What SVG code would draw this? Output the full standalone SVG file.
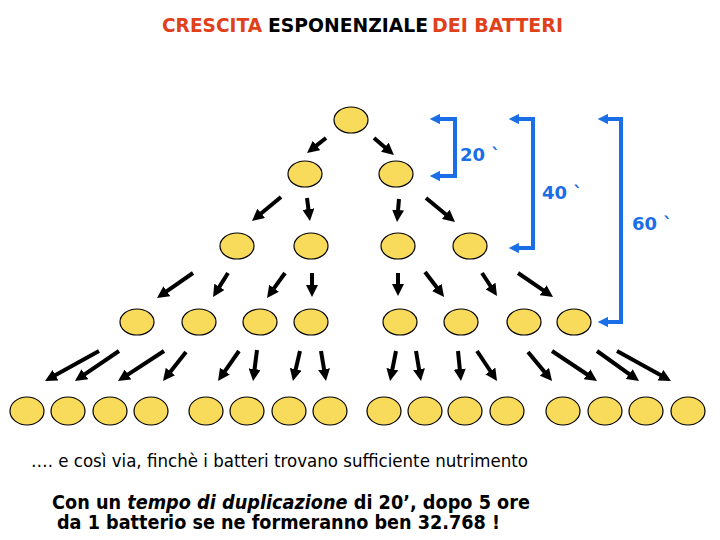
<svg xmlns="http://www.w3.org/2000/svg" width="720" height="540" viewBox="0 0 720 540">
<style>
.cell{fill:#F9DB5B;stroke:#000;stroke-width:1.2}
.ar{stroke:#000;stroke-width:4;fill:none;marker-end:url(#ah)}
.br{stroke:#1A6EE6;stroke-width:4;fill:none;stroke-linejoin:miter;marker-start:url(#bh);marker-end:url(#bh)}
.bl{fill:#1A6EE6;font-family:"DejaVu Sans",Verdana,sans-serif;font-weight:bold;font-size:18px}
.ti{font-family:"DejaVu Sans",Verdana,sans-serif;font-weight:bold;font-size:19px}
.red{fill:#E0401A}
.bt{font-family:"DejaVu Sans",Verdana,sans-serif;font-weight:bold;font-size:19px;fill:#000}
.nt{font-family:"DejaVu Sans",Verdana,sans-serif;font-size:17px;fill:#000}
</style>
<defs>
<marker id="ah" viewBox="0 0 10 10" refX="2.5" refY="5" markerWidth="3" markerHeight="3" markerUnits="strokeWidth" orient="auto">
<path d="M0,0 L10,5 L0,10 z" fill="#000"/>
</marker>
<marker id="bh" viewBox="0 0 10 10" refX="2" refY="5" markerWidth="2.8" markerHeight="2.6" markerUnits="strokeWidth" orient="auto-start-reverse">
<path d="M0,0 L10,5 L0,10 z" fill="#1A6EE6"/>
</marker>
</defs>

<g id="title">
<text class="ti red" x="162" y="32" textLength="100" lengthAdjust="spacingAndGlyphs">CRESCITA</text>
<text class="ti" x="268" y="32" textLength="160" lengthAdjust="spacingAndGlyphs" fill="#000">ESPONENZIALE</text>
<text class="ti red" x="432" y="32" textLength="131" lengthAdjust="spacingAndGlyphs">DEI BATTERI</text>
</g>

<g id="connectors">
<path class="ar" d="M326,138 L314.1,147.4"/>
<path class="ar" d="M374,138 L387.1,149.2"/>
<path class="ar" d="M281,197 L258.9,215.3"/>
<path class="ar" d="M307,198 L308.8,212.1"/>
<path class="ar" d="M399,199 L397.8,213"/>
<path class="ar" d="M426,198 L448.1,216.3"/>
<path class="ar" d="M193,273 L164.4,292.9"/>
<path class="ar" d="M228,273 L217.8,289.4"/>
<path class="ar" d="M285,273 L272.3,290.7"/>
<path class="ar" d="M312,273 L312,288"/>
<path class="ar" d="M398,273 L398,287"/>
<path class="ar" d="M425,272 L438.6,289.8"/>
<path class="ar" d="M482,273 L492.1,288.5"/>
<path class="ar" d="M518,273 L545.6,291.9"/>
<path class="ar" d="M99,351 L52.9,376.6"/>
<path class="ar" d="M119,351 L82.4,375.9"/>
<path class="ar" d="M164,351 L125.5,376.1"/>
<path class="ar" d="M186,352 L168.6,373.9"/>
<path class="ar" d="M239,351 L223.2,373.6"/>
<path class="ar" d="M257,350 L254.2,372.1"/>
<path class="ar" d="M300,351 L295,372.2"/>
<path class="ar" d="M321,351 L324.5,372.1"/>
<path class="ar" d="M396,351 L391.8,372.2"/>
<path class="ar" d="M416,351 L419.5,372.1"/>
<path class="ar" d="M458,351 L460.1,372"/>
<path class="ar" d="M477,351 L492,373.5"/>
<path class="ar" d="M528,352 L546.3,374.1"/>
<path class="ar" d="M552,351 L589.5,376"/>
<path class="ar" d="M597,351 L631.7,375.8"/>
<path class="ar" d="M617,351 L663.1,376.6"/>
</g>

<g id="brackets">
<path class="br" d="M438,119 L455,119 L455,176 L438,176"/>
<path class="br" d="M517,119 L533,119 L533,248 L517,248"/>
<path class="br" d="M606,119 L621,119 L621,322 L606,322"/>
<text class="bl" x="460" y="161">20 `</text>
<text class="bl" x="542" y="199">40 `</text>
<text class="bl" x="632" y="230">60 `</text>
</g>

<g id="gen0"><ellipse class="cell" cx="351" cy="120" rx="17" ry="13"/></g>
<g id="gen1">
<ellipse class="cell" cx="305" cy="174" rx="17" ry="13"/>
<ellipse class="cell" cx="396" cy="174" rx="17" ry="13"/>
</g>
<g id="gen2">
<ellipse class="cell" cx="237" cy="246" rx="17" ry="13"/>
<ellipse class="cell" cx="311" cy="246" rx="17" ry="13"/>
<ellipse class="cell" cx="398" cy="246" rx="17" ry="13"/>
<ellipse class="cell" cx="470" cy="246" rx="17" ry="13"/>
</g>
<g id="gen3">
<ellipse class="cell" cx="137" cy="322" rx="17" ry="13"/>
<ellipse class="cell" cx="199" cy="322" rx="17" ry="13"/>
<ellipse class="cell" cx="260" cy="322" rx="17" ry="13"/>
<ellipse class="cell" cx="311" cy="322" rx="17" ry="13"/>
<ellipse class="cell" cx="400" cy="322" rx="17" ry="13"/>
<ellipse class="cell" cx="461" cy="322" rx="17" ry="13"/>
<ellipse class="cell" cx="524" cy="322" rx="17" ry="13"/>
<ellipse class="cell" cx="574" cy="322" rx="17" ry="13"/>
</g>
<g id="gen4">
<ellipse class="cell" cx="27" cy="411" rx="17" ry="14"/>
<ellipse class="cell" cx="68" cy="411" rx="17" ry="14"/>
<ellipse class="cell" cx="110" cy="411" rx="17" ry="14"/>
<ellipse class="cell" cx="151" cy="411" rx="17" ry="14"/>
<ellipse class="cell" cx="206" cy="411" rx="17" ry="14"/>
<ellipse class="cell" cx="247" cy="411" rx="17" ry="14"/>
<ellipse class="cell" cx="289" cy="411" rx="17" ry="14"/>
<ellipse class="cell" cx="330" cy="411" rx="17" ry="14"/>
<ellipse class="cell" cx="384" cy="411" rx="17" ry="14"/>
<ellipse class="cell" cx="425" cy="411" rx="17" ry="14"/>
<ellipse class="cell" cx="465" cy="411" rx="17" ry="14"/>
<ellipse class="cell" cx="507" cy="411" rx="17" ry="14"/>
<ellipse class="cell" cx="563" cy="411" rx="17" ry="14"/>
<ellipse class="cell" cx="605" cy="411" rx="17" ry="14"/>
<ellipse class="cell" cx="646" cy="411" rx="17" ry="14"/>
<ellipse class="cell" cx="688" cy="411" rx="17" ry="14"/>
</g>

<g id="notes">
<text class="nt" x="31" y="467" textLength="497" lengthAdjust="spacingAndGlyphs">…. e così via, finchè i batteri trovano sufficiente nutrimento</text>
<text class="bt" x="52" y="509" textLength="478" lengthAdjust="spacingAndGlyphs">Con un <tspan font-style="italic">tempo di duplicazione</tspan> di 20’, dopo 5 ore</text>
<text class="bt" x="57" y="529" textLength="443" lengthAdjust="spacingAndGlyphs">da 1 batterio se ne formeranno ben 32.768 !</text>
</g>
</svg>
